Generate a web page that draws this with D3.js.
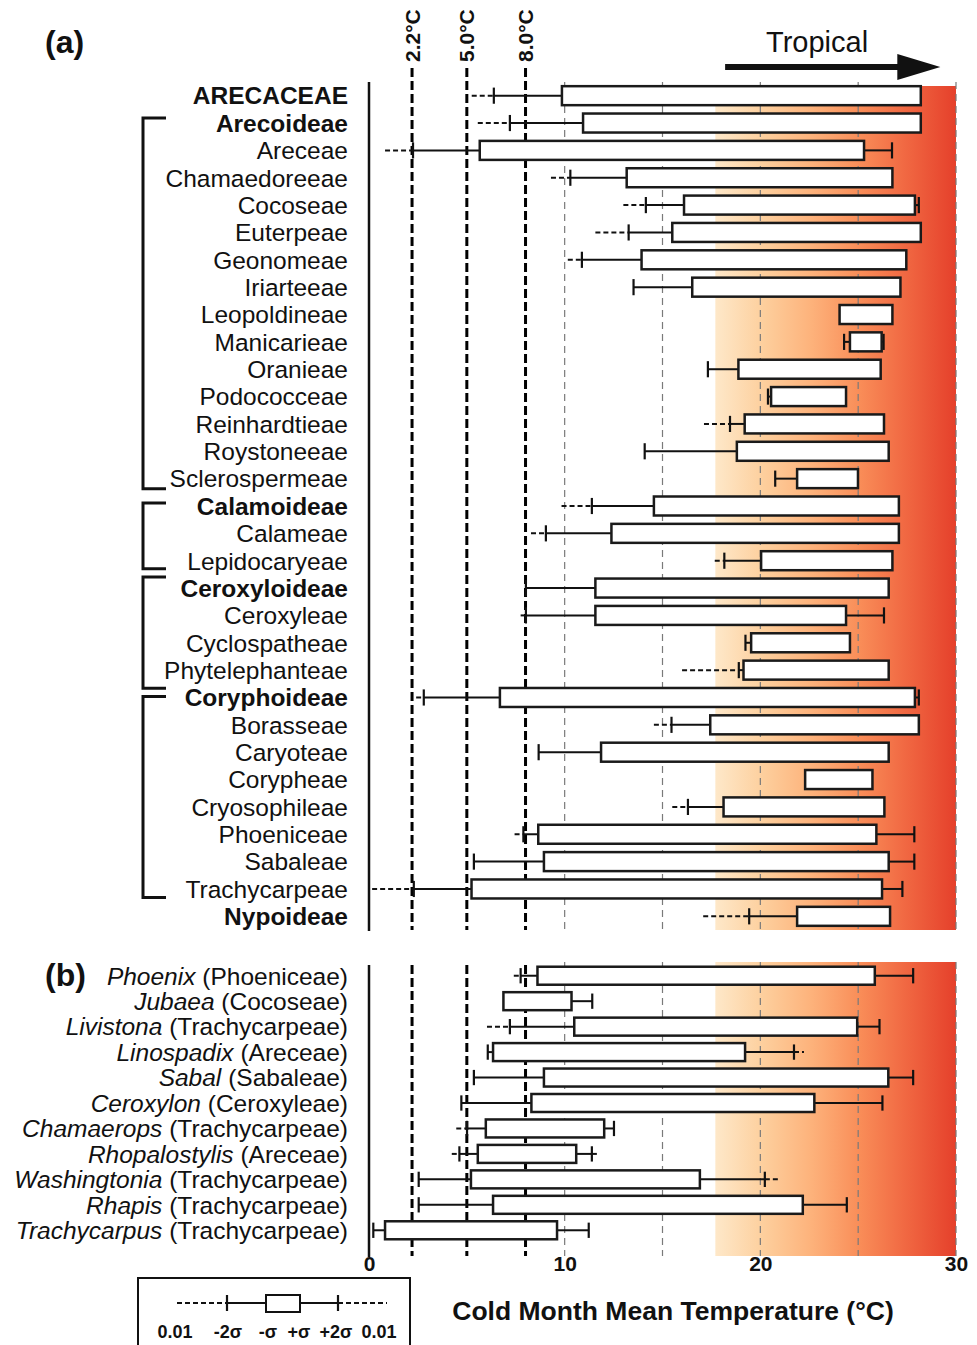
<!DOCTYPE html>
<html><head><meta charset="utf-8">
<script src="https://cdn.jsdelivr.net/npm/d3@7"></script>
<style>body{margin:0;background:#fff;} text{font-family:"Liberation Sans",Arial,sans-serif;fill:#111;}</style>
</head><body><svg id="c" width="977" height="1345"></svg>
<script>
// ---------- DATA ----------
const labelsA = ["ARECACEAE","Arecoideae","Areceae","Chamaedoreeae","Cocoseae","Euterpeae","Geonomeae","Iriarteeae","Leopoldineae","Manicarieae","Oranieae","Podococceae","Reinhardtieae","Roystoneeae","Sclerospermeae","Calamoideae","Calameae","Lepidocaryeae","Ceroxyloideae","Ceroxyleae","Cyclospatheae","Phytelephanteae","Coryphoideae","Borasseae","Caryoteae","Corypheae","Cryosophileae","Phoeniceae","Sabaleae","Trachycarpeae","Nypoideae"];
const boldA = ["ARECACEAE","Arecoideae","Calamoideae","Ceroxyloideae","Coryphoideae","Nypoideae"];
// 0.01 quantile (lower), -2σ, -σ, +σ, +2σ, 0.01 quantile (upper)
const q01LowA = [5.25,5.56,0.82,9.3,13.0,11.57,10.16,null,null,null,null,null,17.12,null,null,9.84,8.28,17.67,null,7.75,null,16.0,2.41,14.56,null,null,15.5,7.44,null,0.16,17.08];
const minus2A = [6.38,7.2,2.25,10.29,14.15,13.27,10.88,13.52,null,24.28,17.32,20.39,18.45,14.09,20.76,11.39,9.04,18.16,8.02,8.02,19.24,18.9,2.8,15.46,8.67,null,16.3,7.89,5.36,2.29,19.43];
const minus1A = [9.86,10.94,5.66,13.17,16.1,15.5,13.93,16.52,24.05,24.58,18.88,20.55,19.2,18.8,21.88,14.56,12.39,20.04,11.57,11.57,19.53,19.14,6.69,17.44,11.86,22.29,18.12,8.65,8.94,5.24,21.88];
const plus1A  = [28.2,28.2,25.3,26.75,27.9,28.2,27.46,27.16,26.75,26.2,26.15,24.38,26.32,26.56,24.99,27.08,27.08,26.75,26.56,24.38,24.58,26.56,27.9,28.1,26.56,25.73,26.34,25.93,26.56,26.22,26.63];
const plus2A  = [null,null,26.73,null,28.1,null,null,null,null,26.3,null,null,null,null,null,null,null,null,null,26.32,null,null,28.1,null,null,null,null,27.87,27.87,27.26,null];
const q01HighA = new Array(31).fill(null);

const genusB = ["Phoenix","Jubaea","Livistona","Linospadix","Sabal","Ceroxylon","Chamaerops","Rhopalostylis","Washingtonia","Rhapis","Trachycarpus"];
const tribeB = ["Phoeniceae","Cocoseae","Trachycarpeae","Areceae","Sabaleae","Ceroxyleae","Trachycarpeae","Areceae","Trachycarpeae","Trachycarpeae","Trachycarpeae"];
const q01LowB = [7.4,null,6.03,null,null,null,4.46,4.23,null,null,null];
const minus2B = [7.75,null,7.2,6.07,5.36,4.72,5.01,4.62,2.54,2.54,0.22];
const minus1B = [8.61,6.87,10.49,6.34,8.94,8.3,5.97,5.56,5.21,6.34,0.82];
const plus1B  = [25.85,10.35,24.95,19.22,26.54,22.76,12.02,10.59,16.91,22.17,9.61];
const plus2B  = [27.81,11.41,26.09,21.72,27.81,26.24,12.52,11.39,20.23,24.42,11.23];
const q01HighB = [null,null,null,22.23,null,null,null,11.74,20.9,null,null];

const refValues = [2.2, 5.0, 8.0];
const refLabels = ["2.2°C","5.0°C","8.0°C"];
const gridValues = [10, 15, 20, 25, 30];
const tickValues = [0, 10, 20, 30];
const tropicalStart = 17.7;

const bracketFirst = ["Arecoideae","Calamoideae","Ceroxyloideae","Coryphoideae"];
const bracketLast  = ["Sclerospermeae","Lepidocaryeae","Phytelephanteae","Trachycarpeae"];

// ---------- CHART ----------
const svg = d3.select("#c");
const x = d3.scaleLinear().domain([0,30]).range([369, 956]);
const yA = d3.scalePoint().domain(labelsA).range([82, 930]).padding(0.5);
const yB = d3.scalePoint().domain(genusB).range([963, 1243]).padding(0.5);

const defs = svg.append("defs");
const grad = defs.append("linearGradient").attr("id","trop").attr("x1","0%").attr("x2","100%");
[[0,"#fee8c9"],[0.2,"#fdcf9d"],[0.4,"#fdb27b"],[0.6,"#f98d58"],[0.8,"#f06641"],[1,"#e5402b"]]
  .forEach(([o,c]) => grad.append("stop").attr("offset", o).attr("stop-color", c));

const panels = [
  {top: 86, bot: 930, gridTop: 82, refTop: 68, axTop: 82},
  {top: 962, bot: 1256, gridTop: 962, refTop: 965, axTop: 965}
];
panels.forEach(p => {
  svg.append("rect").attr("x", x(tropicalStart)).attr("y", p.top)
    .attr("width", x(30) - x(tropicalStart)).attr("height", p.bot - p.top)
    .attr("fill", "url(#trop)");
  gridValues.forEach(v => svg.append("line").attr("x1", x(v)).attr("x2", x(v))
    .attr("y1", p.gridTop).attr("y2", p.bot).attr("stroke", "#7a7a7a")
    .attr("stroke-width", 1.2).attr("stroke-dasharray", "7,5"));
  refValues.forEach(v => svg.append("line").attr("x1", x(v)).attr("x2", x(v))
    .attr("y1", p.refTop).attr("y2", p.bot).attr("stroke", "#000")
    .attr("stroke-width", 3).attr("stroke-dasharray", "9,4"));
  svg.append("line").attr("x1", x(0)).attr("x2", x(0)).attr("y1", p.axTop).attr("y2", p.bot + 1)
    .attr("stroke", "#111").attr("stroke-width", 2.5);
});

// reference labels
refValues.forEach((v,i) => {
  svg.append("text").attr("transform", `translate(${x(v)},62) rotate(-90)`)
    .attr("dy", "0.36em").attr("text-anchor", "start")
    .attr("font-size", 21).attr("font-weight", "bold").text(refLabels[i]);
});

// Tropical arrow
svg.append("line").attr("x1", x(18.2)).attr("x2", x(27.3)).attr("y1", 67).attr("y2", 67)
  .attr("stroke", "#111").attr("stroke-width", 6);
svg.append("path").attr("d", `M${x(27.0)},54 L${x(29.2)},67 L${x(27.0)},80 Z`).attr("fill", "#111");
svg.append("text").attr("x", x(22.9)).attr("y", 52).attr("text-anchor", "middle")
  .attr("font-size", 29).text("Tropical");

// row drawing
function drawRow(g, y, h, lo, m2, m1, p1, p2, hi) {
  const ws = 2, th = h * 0.85;
  const dashed = (a, b) => g.append("line").attr("x1", x(a)).attr("x2", x(b)).attr("y1", y).attr("y2", y)
    .attr("stroke", "#111").attr("stroke-width", ws).attr("stroke-dasharray", "5,3");
  const solid = (a, b) => g.append("line").attr("x1", x(a)).attr("x2", x(b)).attr("y1", y).attr("y2", y)
    .attr("stroke", "#111").attr("stroke-width", ws);
  const tick = a => g.append("line").attr("x1", x(a)).attr("x2", x(a)).attr("y1", y - th/2).attr("y2", y + th/2)
    .attr("stroke", "#111").attr("stroke-width", 2.2);
  if (lo != null) dashed(lo, m2 != null ? m2 : m1);
  if (m2 != null) { solid(m2, m1); tick(m2); }
  if (hi != null) dashed(p2 != null ? p2 : p1, hi);
  if (p2 != null) { solid(p1, p2); tick(p2); }
  g.append("rect").attr("x", x(m1)).attr("y", y - h/2).attr("width", x(p1) - x(m1)).attr("height", h)
    .attr("fill", "#fff").attr("stroke", "#1a1a1a").attr("stroke-width", 2.5);
}

const gA = svg.append("g");
labelsA.forEach((l, i) => {
  drawRow(gA, yA(l), 19, q01LowA[i], minus2A[i], minus1A[i], plus1A[i], plus2A[i], q01HighA[i]);
  svg.append("text").attr("x", 348).attr("y", yA(l)).attr("dy", "0.36em").attr("text-anchor", "end")
    .attr("font-size", 24.5).attr("font-weight", boldA.includes(l) ? "bold" : "normal").text(l);
});
const gB = svg.append("g");
genusB.forEach((l, i) => {
  drawRow(gB, yB(l), 18, q01LowB[i], minus2B[i], minus1B[i], plus1B[i], plus2B[i], q01HighB[i]);
  const t = svg.append("text").attr("x", 348).attr("y", yB(l)).attr("dy", "0.36em").attr("text-anchor", "end")
    .attr("font-size", 24.5);
  t.append("tspan").attr("font-style", "italic").text(l);
  t.append("tspan").text(" (" + tribeB[i] + ")");
});

// brackets (top/bottom pixel offsets around the first/last row of each subfamily)
const bracketTopOff = [-5, -3, -11, -1];
const bracketBotOff = [10, 8, 18, 8.5];
bracketFirst.forEach((a, i) => {
  const y1 = yA(a) + bracketTopOff[i], y2 = yA(bracketLast[i]) + bracketBotOff[i];
  svg.append("path").attr("d", `M166,${y1} H143 V${y2} H166`).attr("fill", "none")
    .attr("stroke", "#111").attr("stroke-width", 3);
});

// panel letters
svg.append("text").attr("x", 45).attr("y", 53).attr("font-size", 32).attr("font-weight", "bold").text("(a)");
svg.append("text").attr("x", 45).attr("y", 986).attr("font-size", 32).attr("font-weight", "bold").text("(b)");

// x axis
const ax = svg.append("g").attr("transform", "translate(0,1252)")
  .call(d3.axisBottom(x).tickValues(tickValues).tickSize(0).tickPadding(4).tickFormat(d3.format("d")));
ax.select(".domain").remove();
ax.selectAll("text").attr("font-size", 21).attr("font-weight", "bold")
  .attr("font-family", '"Liberation Sans",Arial,sans-serif').attr("fill", "#111");
svg.append("text").attr("x", 673).attr("y", 1320).attr("text-anchor", "middle")
  .attr("font-size", 26.5).attr("font-weight", "bold").text("Cold Month Mean Temperature (°C)");

// legend
const lg = svg.append("g");
lg.append("rect").attr("x", 138).attr("y", 1278).attr("width", 272).attr("height", 90)
  .attr("fill", "none").attr("stroke", "#111").attr("stroke-width", 2);
const ly = 1303;
lg.append("line").attr("x1", 177).attr("x2", 227).attr("y1", ly).attr("y2", ly).attr("stroke", "#111").attr("stroke-width", 2).attr("stroke-dasharray", "5,3");
lg.append("line").attr("x1", 227).attr("x2", 266).attr("y1", ly).attr("y2", ly).attr("stroke", "#111").attr("stroke-width", 2);
lg.append("line").attr("x1", 300).attr("x2", 338).attr("y1", ly).attr("y2", ly).attr("stroke", "#111").attr("stroke-width", 2);
lg.append("line").attr("x1", 338).attr("x2", 387).attr("y1", ly).attr("y2", ly).attr("stroke", "#111").attr("stroke-width", 2).attr("stroke-dasharray", "5,3");
[227, 338].forEach(t => lg.append("line").attr("x1", t).attr("x2", t).attr("y1", ly - 8).attr("y2", ly + 8).attr("stroke", "#111").attr("stroke-width", 2.2));
lg.append("rect").attr("x", 266).attr("y", 1295).attr("width", 34).attr("height", 17).attr("fill", "#fff").attr("stroke", "#111").attr("stroke-width", 2);
const legLabels = ["0.01","-2σ","-σ","+σ","+2σ","0.01"];
const legX = [175, 228, 268, 299, 336, 379];
legLabels.forEach((t, i) => lg.append("text").attr("x", legX[i]).attr("y", 1338).attr("text-anchor", "middle")
  .attr("font-size", 18).attr("font-weight", "bold").text(t));
</script></body></html>
